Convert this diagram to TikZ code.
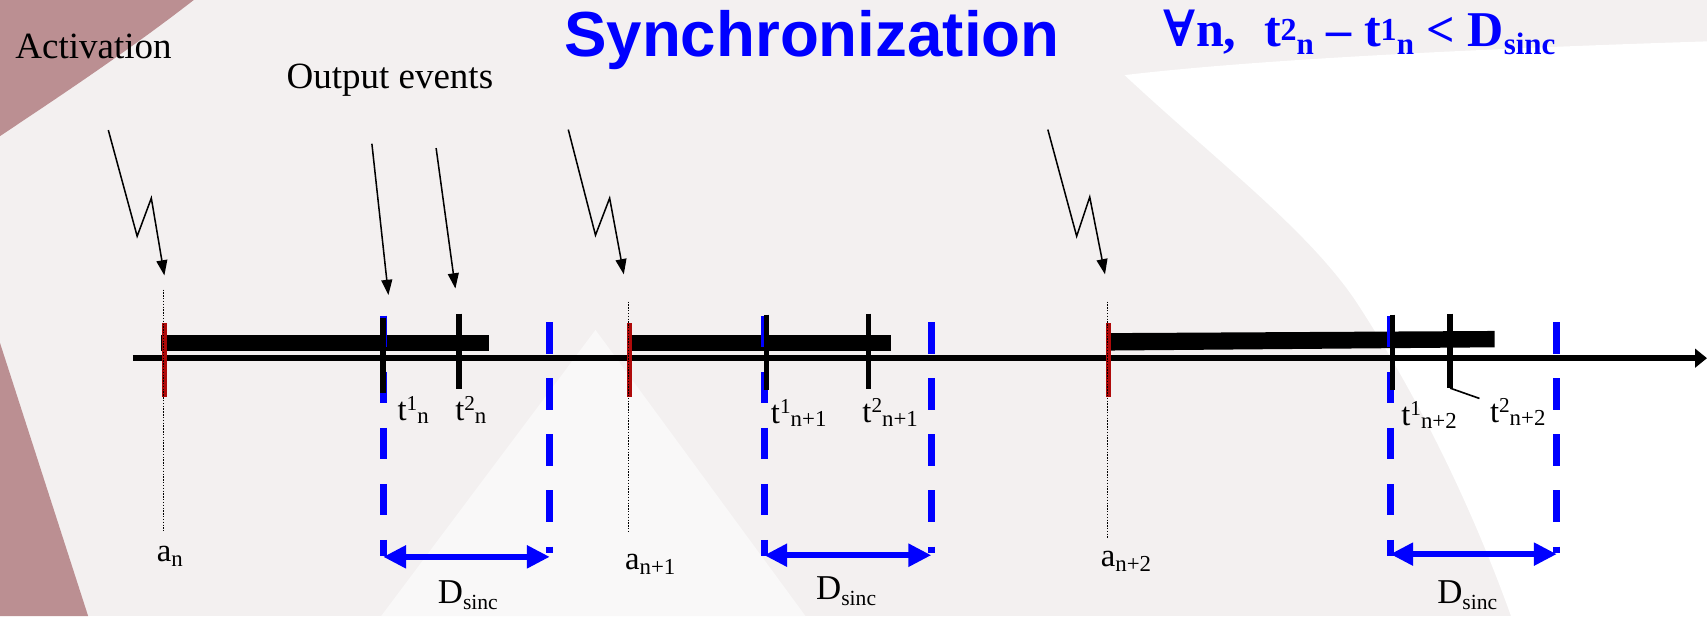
\documentclass[tikz,border=0pt]{standalone}
\usepackage{fontspec}
\usepackage{graphicx}
\setmainfont{Liberation Serif}
\newfontfamily\titlefont{Liberation Sans}
\newfontfamily\symfont{DejaVu Serif}
\usetikzlibrary{arrows.meta}
\definecolor{bgc}{RGB}{243,240,240}
\definecolor{mauve}{RGB}{187,143,146}
\definecolor{pyr}{RGB}{249,248,248}
\definecolor{tickred}{RGB}{175,10,10}
\definecolor{syncblue}{RGB}{0,0,255}
\newcommand\rs[3]{\raisebox{#2}{\scalebox{#1}{#3}}}
\newcommand\tl[2]{t\rs{0.65}{0.31em}{#1}\rs{0.7}{-0.1em}{#2}}
\begin{document}
\begin{tikzpicture}[x=1pt,y=-1pt,
  lbl/.style={inner sep=0pt, anchor=base west, font=\fontsize{30}{34}\selectfont},
  dlbl/.style={inner sep=0pt, anchor=base west, font=\fontsize{32}{36}\selectfont},
  txt/.style={inner sep=0pt, anchor=base west, font=\fontsize{34}{40}\selectfont},
  bolt/.style={line width=1.4pt, -{Triangle[length=14pt,width=10pt]}},
  redtick/.style={line width=5pt, tickred},
  blacktick/.style={line width=5pt, black},
  dotline/.style={line width=1.2pt, dash pattern=on 1.3pt off 1.3pt},
  bluedash/.style={line width=6.5pt, syncblue, dash pattern=on 29pt off 22.5pt},
  darrow/.style={line width=6pt, syncblue, {Triangle[length=21pt,width=20pt]}-{Triangle[length=21pt,width=20pt]}},
  bar/.style={fill=black},
]
\useasboundingbox (0,0) rectangle (1568,566);
% background
\fill[bgc] (0,0) rectangle (1568,566);
\fill[white] (1033,69) .. controls (1120,150) and (1200,210) .. (1245,276)
  .. controls (1300,360) and (1350,460) .. (1388,566) -- (1568,566) -- (1568,38)
  .. controls (1350,45) and (1150,55) .. cycle;
\fill[pyr] (547,303) -- (350,566) -- (740,566) -- cycle;
\fill[mauve] (0,0) -- (178,0) .. controls (120,45) and (60,85) .. (0,125) -- cycle;
\fill[mauve] (0,315) -- (81,566) -- (0,566) -- cycle;

% texts
\node[txt] (act) at (14,54) {Activation};
\node[txt] (out) at (263,81) {Output events};
\node[inner sep=0pt, anchor=base west, text=syncblue,
  font=\titlefont\bfseries\fontsize{58.5}{62}\selectfont] (title) at (518,52) {Synchronization};
\node[inner sep=0pt, anchor=base west, text=syncblue,
  font=\bfseries\fontsize{46}{50}\selectfont] (law) at (1069,43)
  {{\symfont ∀}n,\hspace{0.3em} t\rs{0.64}{0.12em}{2}\rs{0.62}{-0.16em}{n} – t\rs{0.64}{0.12em}{1}\rs{0.62}{-0.16em}{n} < D\rs{0.62}{-0.16em}{sinc}};

% axis
\coordinate (ax0) at (122,329);
\coordinate (ax1) at (1568,329);
\draw[line width=5.2pt, -{Triangle[length=11pt,width=17pt]}] (ax0) -- (ax1);

% bars
\fill[bar] (148,308) rectangle (449,322);
\fill[bar] (578,308) rectangle (818,322);
\fill[bar] (1018,306) -- (1373,304) -- (1373,319) -- (1018,322) -- cycle;

% blue dashed windows
\foreach \l/\r [count=\i] in {352/505, 702/855.5, 1277/1430}{
  \coordinate (wl\i t) at (\l,290);
  \coordinate (wl\i b) at (\l,511);
  \coordinate (wr\i t) at (\r,296);
  \coordinate (wr\i b) at (\r,508);
  \draw[bluedash] (wl\i t) -- (wl\i b);
  \draw[bluedash] (wr\i t) -- (wr\i b);
}

% black ticks
\foreach \x/\a/\b [count=\i] in {352/292/361, 421.5/288/357, 704/289/358, 798/288/357, 1279/289/358, 1332/288/356.5}{
  \coordinate (k\i t) at (\x,\a);
  \coordinate (k\i b) at (\x,\b);
  \draw[blacktick] (k\i t) -- (k\i b);
}
\coordinate (lead) at (1359,366);
\draw[line width=1.5pt] (k6b) -- (lead);

% red ticks and dotted lines
\foreach \x/\d/\e [count=\i] in {151/266/488, 578/277/488, 1018/277/494}{
  \coordinate (r\i t) at (\x,297);
  \coordinate (r\i b) at (\x,365);
  \draw[redtick] (r\i t) -- (r\i b);
  \coordinate (d\i t) at (\x-0.5,\d);
  \coordinate (d\i b) at (\x-0.5,\e);
  \draw[dotline] (d\i t) -- (d\i b);
}

% double arrows
\coordinate (da1l) at (352,511.5); \coordinate (da1r) at (505,511.5);
\coordinate (da2l) at (702,510);   \coordinate (da2r) at (855.5,510);
\coordinate (da3l) at (1277,509);  \coordinate (da3r) at (1430,509);
\draw[darrow] (da1l) -- (da1r);
\draw[darrow] (da2l) -- (da2r);
\draw[darrow] (da3l) -- (da3r);

% activation bolts
\coordinate (b1s) at (99.5,119.5); \coordinate (b1a) at (126,217); \coordinate (b1b) at (139,182); \coordinate (b1e) at (151,253);
\coordinate (b2s) at (522,119); \coordinate (b2a) at (547,216); \coordinate (b2b) at (560,182); \coordinate (b2e) at (573,252);
\coordinate (b3s) at (962.5,119); \coordinate (b3a) at (989,217); \coordinate (b3b) at (1001,181); \coordinate (b3e) at (1015,252);
\draw[bolt] (b1s) -- (b1a) -- (b1b) -- (b1e);
\draw[bolt] (b2s) -- (b2a) -- (b2b) -- (b2e);
\draw[bolt] (b3s) -- (b3a) -- (b3b) -- (b3e);

% output event arrows
\coordinate (o1s) at (341.6,132); \coordinate (o1e) at (356.8,271);
\coordinate (o2s) at (400.6,136); \coordinate (o2e) at (418.3,265);
\draw[bolt] (o1s) -- (o1e);
\draw[bolt] (o2s) -- (o2e);

% labels
\node[lbl] (t1n) at (365,386) {\tl{1}{n}};
\node[lbl] (t2n) at (418,386) {\tl{2}{n}};
\node[lbl] (t1n1) at (708,389) {\tl{1}{n+1}};
\node[lbl] (t2n1) at (792,388.5) {\tl{2}{n+1}};
\node[lbl] (t1n2) at (1287,390.5) {\tl{1}{n+2}};
\node[lbl] (t2n2) at (1368.5,388) {\tl{2}{n+2}};

\node[lbl] (an) at (144,516) {a\rs{0.7}{-0.15em}{n}};
\node[lbl] (an1) at (574,523) {a\rs{0.7}{-0.15em}{n+1}};
\node[lbl] (an2) at (1011,520) {a\rs{0.7}{-0.15em}{n+2}};

\node[dlbl] (ds1) at (402,554) {D\rs{0.62}{-0.17em}{sinc}};
\node[dlbl] (ds2) at (749.5,551) {D\rs{0.62}{-0.17em}{sinc}};
\node[dlbl] (ds3) at (1320,554) {D\rs{0.62}{-0.17em}{sinc}};
\end{tikzpicture}
\end{document}
